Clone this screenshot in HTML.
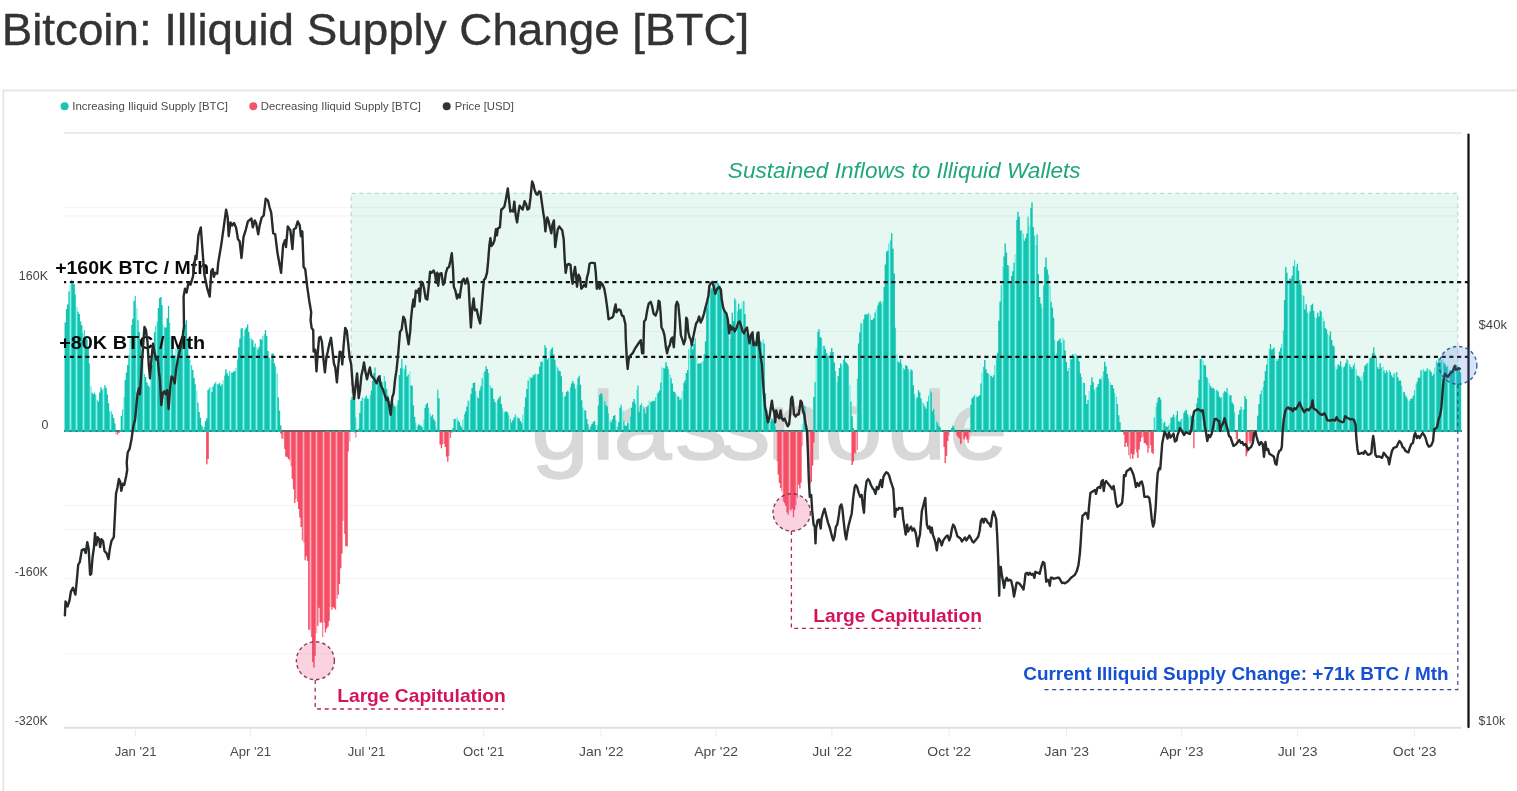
<!DOCTYPE html>
<html lang="en">
<head>
<meta charset="utf-8">
<title>Bitcoin: Illiquid Supply Change [BTC]</title>
<style>
html,body{margin:0;padding:0;background:#fff;}
body{width:1517px;height:791px;overflow:hidden;font-family:"Liberation Sans",sans-serif;}
svg{display:block;}
text{font-family:"Liberation Sans",sans-serif;}
</style>
</head>
<body>
<svg width="1517" height="791" viewBox="0 0 1517 791">
<defs>
<path id="pb" d="M64.60 431.9V322.6H65.88V309.1H67.15V304.5H68.43V291.6H69.70V285.1H70.98V279.7H72.25V283.8H73.53V284.2H74.80V294.4H76.08V307.0H77.35V311.8H78.63V314.1H79.90V321.5H81.18V325.2H82.46V333.0H83.73V329.9H85.01V338.1H86.28V339.3H87.56V347.7H88.83V363.6H90.11V386.2H91.38V392.8H92.66V394.2H93.93V392.8H95.21V394.9H96.48V399.7H97.76V401.4H99.04V392.5H100.31V387.3H101.59V389.8H102.86V388.3H104.14V384.9H105.41V387.5H106.69V394.5H107.96V403.1H109.24V411.3H110.51V411.3H111.79V414.2H113.07V418.0H114.34V423.6H115.62V429.6H116.89V431.9ZM119.44 431.9V429.9H120.72V415.9H121.99V409.5H123.27V396.9H124.54V380.1H125.82V372.6H127.09V365.0H128.37V355.3H129.65V338.6H130.92V325.1H132.20V318.8H133.47V301.0H134.75V296.1H136.02V308.3H137.30V320.3H138.57V332.1H139.85V345.0H141.12V355.6H142.40V363.3H143.67V373.9H144.95V377.1H146.23V382.6H147.50V385.4H148.78V386.7H150.05V378.2H151.33V364.9H152.60V346.4H153.88V332.2H155.15V325.8H156.43V321.4H157.70V308.1H158.98V298.3H160.25V297.0H161.53V305.1H162.81V324.7H164.08V327.6H165.36V327.5H166.63V318.3H167.91V305.9H169.18V322.8H170.46V336.6H171.73V346.5H173.01V355.6H174.28V355.6H175.56V348.5H176.84V346.6H178.11V344.6H179.39V342.6H180.66V338.7H181.94V330.2H183.21V325.5H184.49V324.4H185.76V320.2H187.04V338.5H188.31V355.4H189.59V359.9H190.86V365.3H192.14V370.1H193.42V378.1H194.69V384.0H195.97V390.4H197.24V402.4H198.52V412.1H199.79V417.7H201.07V425.6H202.34V427.3H203.62V426.8H204.89V420.9H206.17V418.2H207.44V389.9H208.72V388.0H210.00V387.0H211.27V391.9H212.55V386.5H213.82V383.7H215.10V381.9H216.37V384.1H217.65V384.5H218.92V383.0H220.20V386.1H221.47V384.2H222.75V380.3H224.03V375.5H225.30V369.3H226.58V373.2H227.85V376.1H229.13V371.1H230.40V372.6H231.68V372.8H232.95V371.6H234.23V371.2H235.50V368.1H236.78V359.6H238.05V347.3H239.33V338.5H240.61V328.6H241.88V327.9H243.16V336.3H244.43V329.6H245.71V327.4H246.98V324.6H248.26V332.0H249.53V338.1H250.81V338.7H252.08V340.3H253.36V346.9H254.63V343.4H255.91V347.2H257.19V349.6H258.46V347.0H259.74V339.1H261.01V339.7H262.29V336.1H263.56V333.9H264.84V330.1H266.11V336.1H267.39V350.9H268.66V357.4H269.94V360.1H271.21V353.8H272.49V353.5H273.77V363.2H275.04V366.3H276.32V373.5H277.59V397.2H278.87V410.6H280.14V425.4H281.42V431.9ZM324.78 431.9V431.3H326.06V431.3H327.33V431.3H328.61V431.3H329.88V431.3H331.16V431.3H332.43V431.3H333.71V431.3H334.98V431.3H336.26V431.3H337.54V431.3H338.81V431.3H340.09V431.3H341.36V431.3H342.64V431.3H343.91V431.3H345.19V431.3H346.46V431.3H347.74V431.3H349.01V431.3H350.29V399.8H351.57V396.9H352.84V399.1H354.12V399.9H355.39V417.4H356.67V431.3H357.94V428.7H359.22V413.1H360.49V400.9H361.77V397.5H363.04V398.1H364.32V398.4H365.59V395.7H366.87V398.6H368.15V398.9H369.42V395.2H370.70V390.6H371.97V380.7H373.25V373.0H374.52V367.5H375.80V376.8H377.07V380.1H378.35V376.1H379.62V375.0H380.90V381.7H382.17V382.3H383.45V375.9H384.73V381.6H386.00V388.8H387.28V394.9H388.55V399.0H389.83V401.2H391.10V401.5H392.38V403.2H393.65V405.7H394.93V406.7H396.20V404.8H397.48V400.3H398.75V375.0H400.03V368.3H401.31V359.3H402.58V368.3H403.86V369.2H405.13V365.3H406.41V376.6H407.68V374.4H408.96V371.6H410.23V384.9H411.51V386.1H412.78V405.2H414.06V416.9H415.34V422.8H416.61V426.4H417.89V424.5H419.16V424.7H420.44V426.1H421.71V426.9H422.99V419.5H424.26V407.9H425.54V404.3H426.81V402.9H428.09V407.8H429.36V413.6H430.64V416.5H431.92V414.7H433.19V419.2H434.47V421.3H435.74V426.2H437.02V389.7H438.29V398.3H439.57V431.3H440.84V431.3H442.12V431.3H443.39V431.3H444.67V431.3H445.94V431.3H447.22V431.3H448.50V431.3H449.77V431.3H451.05V431.3H452.32V428.3H453.60V419.1H454.87V418.7H456.15V417.5H457.42V420.3H458.70V422.0H459.97V425.5H461.25V427.8H462.52V419.6H463.80V414.1H465.08V411.4H466.35V406.5H467.63V400.8H468.90V400.6H470.18V393.9H471.45V388.1H472.73V383.1H474.00V382.4H475.28V391.1H476.55V396.8H477.83V398.3H479.11V390.4H480.38V386.3H481.66V378.2H482.93V372.7H484.21V371.2H485.48V366.2H486.76V368.9H488.03V372.9H489.31V385.0H490.58V387.8H491.86V388.5H493.13V399.0H494.41V402.0H495.69V402.7H496.96V399.7H498.24V398.1H499.51V396.1H500.79V404.1H502.06V408.6H503.34V412.4H504.61V411.4H505.89V411.5H507.16V412.4H508.44V415.5H509.71V419.0H510.99V422.4H512.27V419.9H513.54V417.5H514.82V414.6H516.09V416.4H517.37V417.8H518.64V418.4H519.92V421.1H521.19V423.2H522.47V414.7H523.74V406.9H525.02V397.5H526.29V388.9H527.57V380.6H528.85V376.8H530.12V377.7H531.40V377.7H532.67V375.2H533.95V374.6H535.22V373.6H536.50V374.5H537.77V374.1H539.05V366.4H540.32V361.8H541.60V361.7H542.88V358.6H544.15V344.9H545.43V347.8H546.70V359.6H547.98V358.1H549.25V350.7H550.53V349.0H551.80V347.4H553.08V354.6H554.35V359.8H555.63V365.4H556.90V367.5H558.18V370.6H559.46V371.2H560.73V376.2H562.01V391.9H563.28V396.8H564.56V396.3H565.83V392.1H567.11V390.8H568.38V392.2H569.66V387.2H570.93V383.5H572.21V380.9H573.48V383.5H574.76V388.5H576.04V385.6H577.31V378.0H578.59V375.8H579.86V384.7H581.14V400.2H582.41V407.5H583.69V410.2H584.96V410.5H586.24V418.9H587.51V424.2H588.79V427.5H590.06V426.3H591.34V424.1H592.62V422.1H593.89V420.7H595.17V424.9H596.44V425.2H597.72V405.4H598.99V395.1H600.27V393.0H601.54V394.1H602.82V396.8H604.09V401.2H605.37V405.1H606.65V406.6H607.92V413.3H609.20V420.4H610.47V422.2H611.75V419.3H613.02V416.1H614.30V414.9H615.57V419.9H616.85V426.7H618.12V422.1H619.40V407.7H620.67V404.8H621.95V410.2H623.23V421.1H624.50V425.4H625.78V425.8H627.05V422.5H628.33V423.2H629.60V416.4H630.88V407.7H632.15V402.0H633.43V399.0H634.70V403.4H635.98V390.1H637.25V385.4H638.53V411.7H639.81V404.9H641.08V402.9H642.36V406.7H643.63V408.4H644.91V413.4H646.18V407.1H647.46V405.3H648.73V400.8H650.01V401.8H651.28V401.7H652.56V400.7H653.83V401.1H655.11V397.2H656.39V393.5H657.66V392.5H658.94V390.4H660.21V382.8H661.49V367.2H662.76V368.2H664.04V368.5H665.31V362.2H666.59V366.3H667.86V369.1H669.14V374.3H670.42V378.2H671.69V383.6H672.97V391.5H674.24V392.0H675.52V394.1H676.79V396.1H678.07V396.9H679.34V400.3H680.62V398.3H681.89V390.9H683.17V383.1H684.44V380.5H685.72V372.9H687.00V369.9H688.27V349.5H689.55V346.8H690.82V341.4H692.10V349.6H693.37V344.1H694.65V338.3H695.92V357.6H697.20V363.4H698.47V363.8H699.75V363.3H701.02V362.5H702.30V360.9H703.58V353.9H704.85V341.5H706.13V307.5H707.40V301.2H708.68V293.8H709.95V290.3H711.23V288.0H712.50V288.7H713.78V284.8H715.05V281.5H716.33V280.1H717.60V283.2H718.88V285.6H720.16V293.8H721.43V301.1H722.71V307.4H723.98V310.8H725.26V314.8H726.53V317.4H727.81V327.0H729.08V339.1H730.36V325.8H731.63V312.7H732.91V321.1H734.19V298.4H735.46V300.6H736.74V311.2H738.01V303.8H739.29V309.4H740.56V308.4H741.84V302.3H743.11V300.9H744.39V313.9H745.66V333.9H746.94V332.1H748.21V333.2H749.49V339.9H750.77V337.8H752.04V331.6H753.32V339.8H754.59V340.5H755.87V345.1H757.14V339.5H758.42V339.5H759.69V341.3H760.97V342.2H762.24V339.3H763.52V343.5H764.79V393.3H766.07V409.7H767.35V415.2H768.62V419.9H769.90V421.1H771.17V418.5H772.45V419.4H773.72V421.2H775.00V426.3H776.27V431.3H777.55V431.3H778.82V431.3H780.10V431.3H781.37V431.3H782.65V431.3H783.93V431.3H785.20V431.3H786.48V431.3H787.75V431.3H789.03V431.3H790.30V431.3H791.58V431.3H792.85V431.3H794.13V431.3H795.40V431.3H796.68V431.3H797.96V431.3H799.23V431.3H800.51V431.3H801.78V424.3H803.06V412.7H804.33V405.8H805.61V427.3H806.88V431.3H808.16V431.3H809.43V431.3H810.71V431.3H811.98V431.3H813.26V397.1H814.54V382.2H815.81V348.4H817.09V331.9H818.36V329.3H819.64V336.9H820.91V338.0H822.19V346.0H823.46V345.8H824.74V348.9H826.01V353.0H827.29V356.0H828.56V355.2H829.84V351.9H831.12V347.9H832.39V351.9H833.67V362.6H834.94V371.1H836.22V382.5H837.49V375.9H838.77V368.1H840.04V363.5H841.32V365.1H842.59V360.0H843.87V355.4H845.14V362.1H846.42V363.5H847.70V365.6H848.97V384.7H850.25V401.6H851.52V416.3H852.80V428.1H854.07V431.3H855.35V431.3H856.62V378.8H857.90V343.4H859.17V332.4H860.45V323.1H861.73V323.6H863.00V319.3H864.28V314.5H865.55V314.6H866.83V314.3H868.10V312.7H869.38V314.4H870.65V320.1H871.93V319.7H873.20V317.9H874.48V312.4H875.75V308.9H877.03V305.4H878.31V302.8H879.58V300.9H880.86V303.3H882.13V300.9H883.41V286.9H884.68V264.6H885.96V251.8H887.23V250.6H888.51V243.3H889.78V240.4H891.06V233.2H892.33V248.7H893.61V273.6H894.89V327.8H896.16V354.4H897.44V361.6H898.71V362.4H899.99V359.3H901.26V363.7H902.54V368.3H903.81V369.5H905.09V365.1H906.36V365.9H907.64V368.9H908.91V371.5H910.19V369.2H911.47V370.6H912.74V385.2H914.02V394.1H915.29V398.8H916.57V397.2H917.84V390.2H919.12V392.6H920.39V398.2H921.67V401.9H922.94V403.4H924.22V406.4H925.50V408.7H926.77V401.4H928.05V395.4H929.32V390.5H930.60V392.3H931.87V411.2H933.15V408.7H934.42V414.9H935.70V420.9H936.97V422.7H938.25V425.8H939.52V427.2H940.80V429.9H942.08V431.3H943.35V431.3H944.63V431.3H945.90V431.3H947.18V431.3H948.45V431.3H949.73V431.3H951.00V428.1H952.28V425.4H953.55V427.2H954.83V430.1H956.10V431.3H957.38V431.3H958.66V431.3H959.93V431.3H961.21V431.3H962.48V431.3H963.76V431.3H965.03V431.3H966.31V431.3H967.58V431.3H968.86V431.3H970.13V404.7H971.41V398.4H972.68V396.7H973.96V394.8H975.24V396.1H976.51V397.2H977.79V396.2H979.06V395.2H980.34V383.4H981.61V372.7H982.89V366.7H984.16V359.9H985.44V369.5H986.71V372.9H987.99V373.7H989.27V375.2H990.54V376.1H991.82V377.4H993.09V375.3H994.37V365.1H995.64V355.8H996.92V352.7H998.19V320.8H999.47V301.5H1000.74V285.2H1002.02V266.6H1003.29V256.5H1004.57V243.6H1005.85V252.4H1007.12V265.1H1008.40V266.0H1009.67V282.1H1010.95V276.1H1012.22V271.3H1013.50V262.8H1014.77V254.1H1016.05V220.1H1017.32V211.7H1018.60V216.7H1019.87V230.7H1021.15V230.0H1022.43V233.6H1023.70V240.8H1024.98V238.0H1026.25V233.6H1027.53V216.7H1028.80V226.4H1030.08V208.1H1031.35V202.6H1032.63V227.0H1033.90V235.5H1035.18V245.1H1036.45V234.6H1037.73V274.2H1039.01V297.0H1040.28V303.4H1041.56V307.4H1042.83V285.5H1044.11V267.1H1045.38V257.6H1046.66V269.4H1047.93V274.6H1049.21V285.6H1050.48V301.7H1051.76V307.7H1053.04V317.7H1054.31V340.3H1055.59V353.6H1056.86V341.2H1058.14V340.3H1059.41V338.5H1060.69V342.7H1061.96V337.7H1063.24V340.2H1064.51V350.6H1065.79V362.1H1067.06V371.0H1068.34V368.0H1069.62V358.4H1070.89V359.5H1072.17V354.0H1073.44V356.4H1074.72V353.3H1075.99V354.7H1077.27V356.4H1078.54V361.4H1079.82V373.5H1081.09V377.3H1082.37V382.8H1083.64V382.9H1084.92V395.1H1086.20V403.9H1087.47V400.0H1088.75V391.1H1090.02V385.0H1091.30V377.2H1092.57V382.2H1093.85V389.7H1095.12V388.1H1096.40V386.8H1097.67V384.0H1098.95V379.0H1100.22V379.6H1101.50V376.7H1102.78V371.3H1104.05V361.8H1105.33V366.3H1106.60V374.0H1107.88V378.6H1109.15V382.0H1110.43V384.7H1111.70V385.0H1112.98V388.4H1114.25V392.9H1115.53V396.7H1116.81V404.2H1118.08V415.3H1119.36V422.2H1120.63V431.3H1121.91V431.3H1123.18V431.3H1124.46V431.3H1125.73V431.3H1127.01V431.3H1128.28V431.3H1129.56V431.3H1130.83V431.3H1132.11V431.3H1133.39V431.3H1134.66V431.3H1135.94V431.3H1137.21V431.3H1138.49V431.3H1139.76V431.3H1141.04V431.3H1142.31V431.3H1143.59V431.3H1144.86V431.3H1146.14V431.3H1147.41V431.3H1148.69V431.3H1149.97V431.3H1151.24V431.3H1152.52V431.3H1153.79V417.6H1155.07V407.1H1156.34V402.6H1157.62V397.7H1158.89V396.9H1160.17V399.6H1161.44V418.6H1162.72V423.2H1163.99V421.8H1165.27V426.2H1166.55V427.1H1167.82V425.2H1169.10V423.2H1170.37V417.8H1171.65V417.2H1172.92V414.6H1174.20V417.2H1175.47V415.0H1176.75V410.9H1178.02V421.2H1179.30V421.7H1180.58V419.2H1181.85V418.5H1183.13V413.0H1184.40V411.1H1185.68V409.7H1186.95V414.3H1188.23V417.0H1189.50V414.6H1190.78V415.9H1192.05V417.8H1193.33V418.9H1194.60V411.7H1195.88V403.2H1197.16V397.7H1198.43V379.7H1199.71V358.9H1200.98V358.7H1202.26V360.7H1203.53V365.1H1204.81V365.5H1206.08V376.9H1207.36V378.8H1208.63V383.1H1209.91V386.1H1211.18V388.1H1212.46V387.8H1213.74V389.1H1215.01V391.1H1216.29V389.8H1217.56V391.5H1218.84V396.5H1220.11V398.0H1221.39V397.1H1222.66V392.8H1223.94V391.3H1225.21V392.2H1226.49V388.1H1227.76V393.0H1229.04V395.3H1230.32V395.3H1231.59V402.6H1232.87V404.3H1234.14V412.3H1235.42V431.3H1236.69V431.3H1237.97V414.8H1239.24V410.0H1240.52V406.7H1241.79V409.2H1243.07V409.5H1244.35V396.1H1245.62V399.1H1246.90V431.3H1248.17V431.3H1249.45V431.3H1250.72V431.3H1252.00V431.3H1253.27V431.3H1254.55V431.3H1255.82V431.3H1257.10V415.7H1258.37V404.1H1259.65V394.0H1260.93V390.2H1262.20V386.9H1263.48V380.7H1264.75V371.1H1266.03V364.6H1267.30V356.4H1268.58V349.1H1269.85V343.9H1271.13V349.8H1272.40V348.8H1273.68V347.6H1274.95V357.7H1276.23V361.1H1277.51V358.9H1278.78V351.6H1280.06V347.7H1281.33V344.0H1282.61V330.6H1283.88V299.9H1285.16V267.1H1286.43V272.7H1287.71V280.1H1288.98V278.5H1290.26V278.7H1291.53V275.7H1292.81V266.1H1294.09V260.1H1295.36V266.8H1296.64V263.8H1297.91V270.8H1299.19V280.0H1300.46V284.8H1301.74V294.8H1303.01V295.8H1304.29V309.4H1305.56V304.2H1306.84V312.5H1308.12V313.5H1309.39V311.3H1310.67V305.1H1311.94V303.8H1313.22V310.9H1314.49V317.4H1315.77V317.9H1317.04V312.8H1318.32V316.4H1319.59V310.4H1320.87V311.8H1322.14V317.7H1323.42V321.2H1324.70V328.0H1325.97V329.6H1327.25V333.8H1328.52V335.4H1329.80V331.5H1331.07V340.0H1332.35V345.5H1333.62V346.8H1334.90V366.5H1336.17V369.2H1337.45V364.6H1338.72V365.4H1340.00V361.3H1341.28V366.8H1342.55V367.5H1343.83V366.4H1345.10V363.2H1346.38V359.3H1347.65V360.5H1348.93V364.3H1350.20V366.9H1351.48V368.8H1352.75V365.5H1354.03V363.3H1355.30V369.6H1356.58V375.8H1357.86V375.7H1359.13V377.3H1360.41V380.5H1361.68V375.8H1362.96V371.9H1364.23V365.9H1365.51V364.5H1366.78V362.9H1368.06V362.4H1369.33V358.0H1370.61V357.8H1371.88V353.2H1373.16V347.3H1374.44V353.8H1375.71V356.3H1376.99V367.0H1378.26V368.9H1379.54V363.2H1380.81V367.6H1382.09V366.4H1383.36V370.6H1384.64V373.3H1385.91V370.4H1387.19V372.4H1388.47V370.1H1389.74V372.1H1391.02V375.2H1392.29V377.6H1393.57V373.5H1394.84V372.7H1396.12V372.0H1397.39V377.4H1398.67V380.8H1399.94V380.6H1401.22V385.8H1402.49V391.7H1403.77V392.2H1405.05V395.6H1406.32V397.7H1407.60V400.3H1408.87V401.1H1410.15V398.9H1411.42V398.6H1412.70V395.7H1413.97V390.3H1415.25V384.0H1416.52V381.8H1417.80V377.7H1419.07V377.8H1420.35V370.0H1421.63V371.0H1422.90V369.1H1424.18V371.8H1425.45V370.7H1426.73V368.1H1428.00V369.1H1429.28V370.0H1430.55V372.0H1431.83V375.7H1433.10V374.1H1434.38V367.5H1435.65V360.7H1436.93V362.8H1438.21V358.2H1439.48V362.6H1440.76V360.5H1442.03V359.2H1443.31V362.6H1444.58V364.3H1445.86V366.9H1447.13V365.7H1448.41V370.4H1449.68V369.9H1450.96V370.5H1452.24V369.8H1453.51V368.4H1454.79V366.0H1456.06V365.1H1457.34V367.2H1458.61V367.1H1459.89V372.4H1461.16V431.9Z"/>
<path id="nb" d="M115.62 431.8V433.9H116.89V435.1H118.17V432.9H119.44V431.8ZM206.17 431.8V464.2H207.44V458.9H208.72V431.8ZM280.14 431.8V433.4H281.42V438.6H282.69V439.1H283.97V449.0H285.24V456.4H286.52V457.0H287.79V459.1H289.07V460.3H290.35V466.2H291.62V478.7H292.90V489.2H294.17V502.9H295.45V499.1H296.72V501.9H298.00V508.9H299.27V517.5H300.55V527.1H301.82V540.5H303.10V543.1H304.38V560.2H305.65V431.8ZM305.65 431.8V556.3H306.93V560.9H308.20V629.8H309.48V629.7H310.75V637.3H312.03V662.1H313.30V667.4H314.58V656.1H315.85V633.3H317.13V626.1H318.40V607.7H319.68V622.4H320.96V622.6H322.23V637.2H323.51V622.6H324.78V632.4H326.06V628.4H327.33V626.4H328.61V621.1H329.88V606.8H331.16V609.8H332.43V607.1H333.71V608.3H334.98V609.8H336.26V598.7H337.54V594.7H338.81V584.1H340.09V568.3H341.36V553.4H342.64V431.8ZM342.64 431.8V520.8H343.91V533.8H345.19V545.9H346.46V546.5H347.74V451.6H349.01V441.6H350.29V431.8ZM355.39 431.8V437.5H356.67V431.8ZM439.57 431.8V444.4H440.84V448.3H442.12V444.2H443.39V443.7H444.67V447.0H445.94V456.5H447.22V461.8H448.50V456.1H449.77V437.9H451.05V431.8ZM340.09 431.8V435.9H341.36V436.0H342.64V436.0H343.91V436.0H345.19V436.0H346.46V436.0H347.74V434.7H349.01V431.8ZM354.12 431.8V432.4H355.39V435.7H356.67V431.8ZM439.57 431.8V435.2H440.84V436.0H442.12V436.0H443.39V436.0H444.67V436.0H445.94V436.0H447.22V436.0H448.50V436.0H449.77V434.5H451.05V432.6H452.32V431.8ZM776.27 431.8V461.2H777.55V474.6H778.82V483.1H780.10V488.0H781.37V491.6H782.65V501.5H783.93V503.2H785.20V506.0H786.48V512.6H787.75V515.0H789.03V509.6H790.30V510.5H791.58V508.4H792.85V517.2H794.13V510.0H795.40V505.2H796.68V497.8H797.96V484.8H799.23V488.5H800.51V482.5H801.78V446.0H803.06V431.8ZM806.88 431.8V432.6H808.16V470.9H809.43V484.5H810.71V481.9H811.98V465.5H813.26V442.4H814.54V431.8ZM851.52 431.8V465.0H852.80V461.6H854.07V452.8H855.35V454.6H856.62V450.1H857.90V431.8ZM943.35 431.8V447.0H944.63V462.9H945.90V455.7H947.18V440.9H948.45V435.5H949.73V431.8ZM956.10 431.8V435.4H957.38V437.0H958.66V438.5H959.93V444.3H961.21V442.8H962.48V438.4H963.76V439.5H965.03V436.5H966.31V439.4H967.58V443.0H968.86V439.5H970.13V432.4H971.41V431.8ZM1123.18 431.8V434.7H1124.46V447.0H1125.73V442.7H1127.01V446.4H1128.28V455.2H1129.56V458.9H1130.83V453.8H1132.11V458.8H1133.39V454.4H1134.66V449.2H1135.94V452.3H1137.21V458.0H1138.49V449.4H1139.76V441.7H1141.04V437.8H1142.31V437.0H1143.59V442.9H1144.86V443.6H1146.14V445.2H1147.41V452.8H1148.69V447.9H1149.97V445.3H1151.24V452.5H1152.52V453.9H1153.79V431.8ZM1193.33 431.8V448.2H1194.60V431.8ZM1235.42 431.8V438.9H1236.69V440.7H1237.97V431.8ZM1245.62 431.8V456.2H1246.90V453.2H1248.17V441.1H1249.45V443.4H1250.72V441.3H1252.00V438.7H1253.27V435.4H1254.55V432.9H1255.82V432.4H1257.10V431.8Z"/>
<mask id="mbar" maskUnits="userSpaceOnUse" x="60" y="170" width="1410" height="520">
<rect x="60" y="170" width="1410" height="520" fill="#ffffff"/>
<path d="M70.5 170V690M76.5 170V690M83.5 170V690M90.5 170V690M96.5 170V690M103.5 170V690M110.5 170V690M116.5 170V690M123.5 170V690M130.5 170V690M136.5 170V690M143.5 170V690M150.5 170V690M156.5 170V690M163.5 170V690M170.5 170V690M176.5 170V690M183.5 170V690M190.5 170V690M196.5 170V690M203.5 170V690M210.5 170V690M216.5 170V690M223.5 170V690M230.5 170V690M236.5 170V690M243.5 170V690M250.5 170V690M256.5 170V690M263.5 170V690M270.5 170V690M276.5 170V690M283.5 170V690M290.5 170V690M296.5 170V690M303.5 170V690M310.5 170V690M316.5 170V690M323.5 170V690M330.5 170V690M336.5 170V690M343.5 170V690M349.5 170V690M356.5 170V690M363.5 170V690M369.5 170V690M376.5 170V690M383.5 170V690M389.5 170V690M396.5 170V690M403.5 170V690M409.5 170V690M416.5 170V690M423.5 170V690M429.5 170V690M436.5 170V690M443.5 170V690M449.5 170V690M456.5 170V690M463.5 170V690M469.5 170V690M476.5 170V690M483.5 170V690M489.5 170V690M496.5 170V690M503.5 170V690M509.5 170V690M516.5 170V690M523.5 170V690M529.5 170V690M536.5 170V690M543.5 170V690M549.5 170V690M556.5 170V690M563.5 170V690M569.5 170V690M576.5 170V690M583.5 170V690M589.5 170V690M596.5 170V690M603.5 170V690M609.5 170V690M616.5 170V690M622.5 170V690M629.5 170V690M636.5 170V690M642.5 170V690M649.5 170V690M656.5 170V690M662.5 170V690M669.5 170V690M676.5 170V690M682.5 170V690M689.5 170V690M696.5 170V690M702.5 170V690M709.5 170V690M716.5 170V690M722.5 170V690M729.5 170V690M736.5 170V690M742.5 170V690M749.5 170V690M756.5 170V690M762.5 170V690M769.5 170V690M776.5 170V690M782.5 170V690M789.5 170V690M796.5 170V690M802.5 170V690M809.5 170V690M816.5 170V690M822.5 170V690M829.5 170V690M836.5 170V690M842.5 170V690M849.5 170V690M856.5 170V690M862.5 170V690M869.5 170V690M876.5 170V690M882.5 170V690M889.5 170V690M896.5 170V690M902.5 170V690M909.5 170V690M915.5 170V690M922.5 170V690M929.5 170V690M935.5 170V690M942.5 170V690M949.5 170V690M955.5 170V690M962.5 170V690M969.5 170V690M975.5 170V690M982.5 170V690M989.5 170V690M995.5 170V690M1002.5 170V690M1009.5 170V690M1015.5 170V690M1022.5 170V690M1029.5 170V690M1035.5 170V690M1042.5 170V690M1049.5 170V690M1055.5 170V690M1062.5 170V690M1069.5 170V690M1075.5 170V690M1082.5 170V690M1089.5 170V690M1095.5 170V690M1102.5 170V690M1109.5 170V690M1115.5 170V690M1122.5 170V690M1129.5 170V690M1135.5 170V690M1142.5 170V690M1149.5 170V690M1155.5 170V690M1162.5 170V690M1169.5 170V690M1175.5 170V690M1182.5 170V690M1189.5 170V690M1195.5 170V690M1202.5 170V690M1208.5 170V690M1215.5 170V690M1222.5 170V690M1228.5 170V690M1235.5 170V690M1242.5 170V690M1248.5 170V690M1255.5 170V690M1262.5 170V690M1268.5 170V690M1275.5 170V690M1282.5 170V690M1288.5 170V690M1295.5 170V690M1302.5 170V690M1308.5 170V690M1315.5 170V690M1322.5 170V690M1328.5 170V690M1335.5 170V690M1342.5 170V690M1348.5 170V690M1355.5 170V690M1362.5 170V690M1368.5 170V690M1375.5 170V690M1382.5 170V690M1388.5 170V690M1395.5 170V690M1402.5 170V690M1408.5 170V690M1415.5 170V690M1422.5 170V690M1428.5 170V690M1435.5 170V690M1442.5 170V690M1448.5 170V690M1455.5 170V690" stroke="#000000" stroke-opacity="0.3" stroke-width="3" fill="none"/>
<path d="M70.5 170V690M76.5 170V690M83.5 170V690M90.5 170V690M96.5 170V690M103.5 170V690M110.5 170V690M116.5 170V690M123.5 170V690M130.5 170V690M136.5 170V690M143.5 170V690M150.5 170V690M156.5 170V690M163.5 170V690M170.5 170V690M176.5 170V690M183.5 170V690M190.5 170V690M196.5 170V690M203.5 170V690M210.5 170V690M216.5 170V690M223.5 170V690M230.5 170V690M236.5 170V690M243.5 170V690M250.5 170V690M256.5 170V690M263.5 170V690M270.5 170V690M276.5 170V690M283.5 170V690M290.5 170V690M296.5 170V690M303.5 170V690M310.5 170V690M316.5 170V690M323.5 170V690M330.5 170V690M336.5 170V690M343.5 170V690M349.5 170V690M356.5 170V690M363.5 170V690M369.5 170V690M376.5 170V690M383.5 170V690M389.5 170V690M396.5 170V690M403.5 170V690M409.5 170V690M416.5 170V690M423.5 170V690M429.5 170V690M436.5 170V690M443.5 170V690M449.5 170V690M456.5 170V690M463.5 170V690M469.5 170V690M476.5 170V690M483.5 170V690M489.5 170V690M496.5 170V690M503.5 170V690M509.5 170V690M516.5 170V690M523.5 170V690M529.5 170V690M536.5 170V690M543.5 170V690M549.5 170V690M556.5 170V690M563.5 170V690M569.5 170V690M576.5 170V690M583.5 170V690M589.5 170V690M596.5 170V690M603.5 170V690M609.5 170V690M616.5 170V690M622.5 170V690M629.5 170V690M636.5 170V690M642.5 170V690M649.5 170V690M656.5 170V690M662.5 170V690M669.5 170V690M676.5 170V690M682.5 170V690M689.5 170V690M696.5 170V690M702.5 170V690M709.5 170V690M716.5 170V690M722.5 170V690M729.5 170V690M736.5 170V690M742.5 170V690M749.5 170V690M756.5 170V690M762.5 170V690M769.5 170V690M776.5 170V690M782.5 170V690M789.5 170V690M796.5 170V690M802.5 170V690M809.5 170V690M816.5 170V690M822.5 170V690M829.5 170V690M836.5 170V690M842.5 170V690M849.5 170V690M856.5 170V690M862.5 170V690M869.5 170V690M876.5 170V690M882.5 170V690M889.5 170V690M896.5 170V690M902.5 170V690M909.5 170V690M915.5 170V690M922.5 170V690M929.5 170V690M935.5 170V690M942.5 170V690M949.5 170V690M955.5 170V690M962.5 170V690M969.5 170V690M975.5 170V690M982.5 170V690M989.5 170V690M995.5 170V690M1002.5 170V690M1009.5 170V690M1015.5 170V690M1022.5 170V690M1029.5 170V690M1035.5 170V690M1042.5 170V690M1049.5 170V690M1055.5 170V690M1062.5 170V690M1069.5 170V690M1075.5 170V690M1082.5 170V690M1089.5 170V690M1095.5 170V690M1102.5 170V690M1109.5 170V690M1115.5 170V690M1122.5 170V690M1129.5 170V690M1135.5 170V690M1142.5 170V690M1149.5 170V690M1155.5 170V690M1162.5 170V690M1169.5 170V690M1175.5 170V690M1182.5 170V690M1189.5 170V690M1195.5 170V690M1202.5 170V690M1208.5 170V690M1215.5 170V690M1222.5 170V690M1228.5 170V690M1235.5 170V690M1242.5 170V690M1248.5 170V690M1255.5 170V690M1262.5 170V690M1268.5 170V690M1275.5 170V690M1282.5 170V690M1288.5 170V690M1295.5 170V690M1302.5 170V690M1308.5 170V690M1315.5 170V690M1322.5 170V690M1328.5 170V690M1335.5 170V690M1342.5 170V690M1348.5 170V690M1355.5 170V690M1362.5 170V690M1368.5 170V690M1375.5 170V690M1382.5 170V690M1388.5 170V690M1395.5 170V690M1402.5 170V690M1408.5 170V690M1415.5 170V690M1422.5 170V690M1428.5 170V690M1435.5 170V690M1442.5 170V690M1448.5 170V690M1455.5 170V690" stroke="#000000" stroke-opacity="0.78" stroke-width="1" fill="none"/>
</mask>
</defs>
<rect x="0" y="0" width="1517" height="791" fill="#ffffff"/>

<!-- title -->
<text x="1.65" y="45.40" font-size="43.6" fill="#333333" textLength="747.61" lengthAdjust="spacingAndGlyphs" stroke="#333333" stroke-width="0.35">Bitcoin: Illiquid Supply Change [BTC]</text>

<!-- frame -->
<path d="M3.3 791V90.4H1517" fill="none" stroke="#e7e7e7" stroke-width="2"/>

<!-- legend -->
<circle cx="64.6" cy="106.2" r="4" fill="#1cc5b1"/>
<circle cx="253.3" cy="106.2" r="4" fill="#f2566b"/>
<circle cx="446.7" cy="106.2" r="4" fill="#333333"/>
<text x="72.25" y="109.90" font-size="11" fill="#4a4a4a" textLength="155.66" lengthAdjust="spacingAndGlyphs">Increasing Iliquid Supply [BTC]</text>
<text x="260.87" y="109.90" font-size="11" fill="#4a4a4a" textLength="159.94" lengthAdjust="spacingAndGlyphs">Decreasing Iliquid Supply [BTC]</text>
<text x="454.67" y="109.90" font-size="11" fill="#4a4a4a" textLength="59.34" lengthAdjust="spacingAndGlyphs">Price [USD]</text>

<!-- axis base -->
<path d="M64 727.8H1461.5" stroke="#e0e0e0" stroke-width="1.9" fill="none"/>
<path d="M64 133H1461.5" stroke="#ececec" stroke-width="1.8" fill="none"/>
<g stroke="#ededed" stroke-width="1" fill="none">
<path d="M135.5 728V737"/>
<path d="M250.3 728V737"/>
<path d="M366.3 728V737"/>
<path d="M483.7 728V737"/>
<path d="M601.0 728V737"/>
<path d="M715.8 728V737"/>
<path d="M831.9 728V737"/>
<path d="M949.2 728V737"/>
<path d="M1066.5 728V737"/>
<path d="M1181.3 728V737"/>
<path d="M1297.4 728V737"/>
<path d="M1414.7 728V737"/>
</g>

<!-- shaded region -->
<rect x="351.2" y="193.3" width="1106.6" height="238.3" fill="#d8f3ea" fill-opacity="0.62"/>
<path d="M351.2 431.6V193.3H1457.8V431.6" fill="none" stroke="#a9cfc3" stroke-width="0.9" stroke-dasharray="4 3.7"/>

<!-- gridlines -->
<g stroke="#000000" stroke-opacity="0.05" stroke-width="1" fill="none">
<path d="M64 207.6H1462"/>
<path d="M64 216H1462"/>
<path d="M64 331.4H1462"/>
<path d="M64 505.3H1462"/>
<path d="M64 529.5H1462"/>
<path d="M64 578.7H1462"/>
<path d="M64 653.8H1462"/>
</g>

<!-- watermark -->
<text transform="translate(0 459.3) scale(1.08 1)" x="491.71 547.67 567.82 625.00 665.04 709.99 763.12 822.22 878.86" y="0" font-size="97" fill="#d2d2d2" stroke="#d2d2d2" stroke-width="1.4" stroke-linejoin="round" opacity="0.85">glassnode</text>

<!-- bars -->
<use href="#pb" fill="#96fffa"/>
<use href="#nb" fill="#ffbbd5"/>
<path d="M64 431H1462" stroke="#2e3030" stroke-width="1.7" fill="none"/>
<g mask="url(#mbar)">
<use href="#pb" fill="#17c3ae"/>
<use href="#nb" fill="#f44e62"/>
</g>

<!-- threshold lines -->
<g stroke="#111111" stroke-width="2.2" fill="none" stroke-dasharray="4.1 3.65" stroke-dashoffset="1.9">
<path d="M64 282.2H1468"/>
<path d="M64 356.8H1468"/>
</g>

<!-- axis labels -->
<text x="18.88" y="279.60" font-size="12.2" fill="#444444" textLength="29.06" lengthAdjust="spacingAndGlyphs">160K</text>
<text x="41.47" y="429.00" font-size="12.2" fill="#444444" textLength="6.92" lengthAdjust="spacingAndGlyphs">0</text>
<text x="14.73" y="576.00" font-size="12.2" fill="#444444" textLength="33.21" lengthAdjust="spacingAndGlyphs">-160K</text>
<text x="14.73" y="724.90" font-size="12.2" fill="#444444" textLength="33.21" lengthAdjust="spacingAndGlyphs">-320K</text>
<text x="1478.56" y="329.20" font-size="12.2" fill="#444444" textLength="28.44" lengthAdjust="spacingAndGlyphs">$40k</text>
<text x="1478.57" y="725.20" font-size="12.2" fill="#444444" textLength="26.72" lengthAdjust="spacingAndGlyphs">$10k</text>
<text x="114.77" y="756.20" font-size="12.8" fill="#4a4a4a" textLength="41.90" lengthAdjust="spacingAndGlyphs">Jan &#39;21</text>
<text x="230.03" y="756.20" font-size="12.8" fill="#4a4a4a" textLength="41.16" lengthAdjust="spacingAndGlyphs">Apr &#39;21</text>
<text x="347.76" y="756.20" font-size="12.8" fill="#4a4a4a" textLength="37.51" lengthAdjust="spacingAndGlyphs">Jul &#39;21</text>
<text x="463.13" y="756.20" font-size="12.8" fill="#4a4a4a" textLength="41.15" lengthAdjust="spacingAndGlyphs">Oct &#39;21</text>
<text x="578.96" y="756.20" font-size="12.8" fill="#4a4a4a" textLength="44.55" lengthAdjust="spacingAndGlyphs">Jan &#39;22</text>
<text x="694.25" y="756.20" font-size="12.8" fill="#4a4a4a" textLength="43.77" lengthAdjust="spacingAndGlyphs">Apr &#39;22</text>
<text x="812.19" y="756.20" font-size="12.8" fill="#4a4a4a" textLength="39.89" lengthAdjust="spacingAndGlyphs">Jul &#39;22</text>
<text x="927.34" y="756.20" font-size="12.8" fill="#4a4a4a" textLength="43.76" lengthAdjust="spacingAndGlyphs">Oct &#39;22</text>
<text x="1044.42" y="756.20" font-size="12.8" fill="#4a4a4a" textLength="44.55" lengthAdjust="spacingAndGlyphs">Jan &#39;23</text>
<text x="1159.71" y="756.20" font-size="12.8" fill="#4a4a4a" textLength="43.77" lengthAdjust="spacingAndGlyphs">Apr &#39;23</text>
<text x="1277.65" y="756.20" font-size="12.8" fill="#4a4a4a" textLength="39.89" lengthAdjust="spacingAndGlyphs">Jul &#39;23</text>
<text x="1392.79" y="756.20" font-size="12.8" fill="#4a4a4a" textLength="43.76" lengthAdjust="spacingAndGlyphs">Oct &#39;23</text>

<!-- annotations text black -->
<text x="55.18" y="273.90" font-size="18" font-weight="bold" fill="#0a0a0a" textLength="154.02" lengthAdjust="spacingAndGlyphs">+160K BTC / Mth</text>
<text x="59.17" y="349.10" font-size="18" font-weight="bold" fill="#0a0a0a" textLength="146.06" lengthAdjust="spacingAndGlyphs">+80K BTC / Mth</text>

<!-- price line -->
<path d="M64.9 615.4L65.5 601.5L67.5 606.5L69.5 600.5L70.9 591.6L72.9 587.7L75.4 594.6L76.8 580.7L78.2 564.9L79.8 562.0L81.8 550.1L84.1 549.1L85.7 553.1L87.3 542.2L88.7 549.1L90.1 574.8L91.2 573.8L92.6 557.0L94.0 547.1L95.0 533.3L96.2 545.1L97.6 537.2L99.2 539.2L100.1 547.1L101.5 539.2L103.1 541.2L104.5 551.1L106.5 553.1L108.5 559.0L109.8 549.1L111.4 541.2L113.8 537.2L115.0 513.5L116.0 493.7L117.4 487.8L118.9 478.9L120.3 481.9L121.3 490.8L122.9 483.8L124.3 484.8L126.2 475.9L127.2 470.0L126.7 462.4L127.7 452.5L129.7 448.5L131.6 438.7L133.2 426.8L135.2 418.9L136.6 403.1L137.6 393.2L139.0 388.2L139.9 394.2L141.5 369.4L143.1 345.7L144.5 326.9L145.9 329.9L147.5 341.8L148.8 365.5L150.0 378.3L151.4 359.6L153.0 343.7L154.4 351.6L156.0 359.6L157.7 358.6L158.9 371.4L159.9 379.3L161.3 405.0L162.9 393.2L164.3 391.2L165.7 394.2L167.2 390.2L168.6 409.0L170.2 387.2L171.6 376.4L173.2 378.3L174.8 383.3L176.1 369.4L178.1 357.6L180.1 349.7L182.1 341.8L184.0 325.9L183.6 296.6L185.0 288.7L186.6 292.6L188.5 282.7L190.5 284.7L192.9 276.8L195.5 256.0L196.5 259.0L198.4 235.3L200.8 227.4L202.4 249.1L204.4 274.8L207.3 288.7L209.7 296.6L211.3 270.9L212.7 268.9L213.9 276.8L215.2 272.8L217.2 273.8L218.2 262.9L221.2 245.1L223.7 227.4L226.1 209.6L227.7 217.5L228.7 236.2L230.5 222.4L232.1 225.4L234.0 223.0L236.0 227.4L238.0 239.2L239.6 241.2L241.5 258.0L243.5 237.2L245.9 229.3L247.9 221.4L251.4 218.5L252.8 227.4L254.8 220.4L256.2 223.4L258.2 234.3L259.7 225.4L261.7 217.5L263.7 215.5L265.7 198.7L268.0 200.7L269.6 207.6L271.2 212.5L273.2 233.3L275.2 234.3L277.5 253.1L281.1 272.8L283.1 245.1L285.0 240.2L286.0 247.1L287.8 226.4L290.4 230.3L292.4 249.1L293.8 229.3L295.7 228.3L297.7 221.4L299.7 225.4L300.9 236.2L302.3 231.3L303.6 266.9L305.2 268.9L307.2 286.7L309.2 300.5L311.2 312.4L310.6 320.0L311.6 327.9L313.2 329.9L313.6 351.6L315.2 349.7L316.5 371.4L317.5 355.6L319.1 337.8L320.5 336.8L321.9 341.8L323.5 359.6L324.9 372.4L326.4 357.6L327.8 351.6L329.4 343.7L331.0 337.8L332.4 349.7L333.9 363.5L335.3 367.5L336.9 382.3L338.3 365.5L339.7 351.6L341.3 352.6L342.3 364.5L343.6 345.7L345.2 327.9L346.8 330.9L348.2 343.7L349.6 357.6L351.2 364.5L352.7 385.3L354.1 399.1L355.5 387.2L357.1 373.4L358.7 398.1L360.1 389.2L361.4 375.4L363.0 368.5L364.0 362.5L365.4 371.4L367.0 379.3L368.6 372.4L369.9 367.5L371.3 375.4L372.9 377.4L374.9 380.3L376.5 383.3L377.9 379.3L379.2 376.4L380.8 385.3L382.8 389.2L384.8 395.1L386.4 400.1L387.7 398.1L389.1 405.0L390.7 414.9L392.3 397.1L393.7 393.2L395.1 379.3L396.6 369.4L398.2 353.6L400.0 331.9L401.7 329.4L403.3 316.6L404.9 319.6L406.2 329.4L407.6 338.3L408.6 344.3L410.2 331.4L410.9 320.3L412.3 306.5L413.4 299.5L414.4 306.5L415.8 290.6L417.4 292.6L418.8 288.7L419.8 301.5L421.2 281.7L422.7 282.7L424.1 288.7L425.7 298.5L427.3 299.5L428.7 286.7L430.1 271.8L431.6 272.8L433.6 270.5L435.2 274.8L436.2 282.7L437.2 272.8L438.2 285.7L439.6 273.8L441.5 273.2L443.1 284.7L444.5 282.7L445.9 272.8L447.5 267.9L449.0 266.9L450.4 261.0L451.8 253.1L453.0 268.9L453.8 286.7L455.4 290.6L457.0 298.5L458.3 294.6L459.7 297.6L460.9 288.7L462.3 280.7L463.7 278.8L465.3 283.7L467.2 278.4L468.6 284.7L469.6 304.5L470.9 327.5L472.2 308.4L473.6 298.5L474.8 310.4L476.7 309.4L478.1 316.3L480.1 323.3L481.5 308.4L483.1 288.7L484.0 279.8L485.4 278.4L487.0 272.8L488.0 262.9L489.4 245.1L490.4 238.2L491.4 246.1L492.9 244.2L494.5 240.2L495.9 229.3L496.9 235.3L497.9 228.3L499.9 227.4L501.3 209.6L502.8 208.6L504.4 206.6L505.8 199.7L507.8 188.4L508.8 197.7L510.3 211.5L511.7 210.5L513.1 211.5L514.3 201.6L515.7 215.5L517.1 222.4L518.3 213.5L519.6 205.6L521.0 207.6L522.6 209.6L524.6 201.2L526.2 204.6L527.6 209.6L529.1 208.6L530.5 197.7L532.1 181.5L533.5 184.8L534.5 189.8L536.1 193.7L537.4 194.7L539.0 191.4L540.4 191.8L542.0 203.6L543.4 213.5L544.4 219.4L545.4 231.3L546.3 223.4L547.3 217.5L548.7 221.4L549.9 227.4L551.3 233.3L552.3 225.4L553.9 220.4L555.2 247.1L556.6 237.2L557.8 229.3L559.2 226.4L560.6 228.3L562.2 230.3L563.7 239.2L564.7 259.0L565.7 272.8L567.1 264.9L569.1 263.9L570.5 264.9L571.7 278.8L572.6 283.7L573.6 274.8L575.0 266.9L576.0 274.8L577.0 286.7L578.6 274.8L580.0 277.8L581.3 288.7L582.9 286.7L584.3 284.7L585.9 286.7L586.9 277.8L588.3 272.8L589.5 263.9L590.8 262.9L592.8 262.9L594.8 263.3L595.8 272.8L596.8 288.7L598.4 282.7L599.7 288.7L601.3 282.7L602.7 284.7L604.3 288.7L605.7 296.6L607.3 308.4L608.6 319.3L610.0 318.3L611.6 317.9L613.2 316.3L614.6 308.4L615.6 304.5L616.5 312.4L618.5 309.4L620.5 310.4L621.9 315.4L623.5 316.3L625.4 324.3L625.8 339.3L626.8 359.1L627.7 369.0L628.7 359.1L630.7 355.1L632.7 353.2L634.7 349.2L636.6 346.2L638.6 343.3L640.8 340.3L642.1 353.2L643.3 353.2L644.1 321.5L645.7 319.6L647.3 309.7L648.7 303.7L650.7 301.8L652.0 305.7L653.6 313.6L655.6 315.6L657.6 309.7L658.6 300.8L659.6 301.8L660.5 311.6L661.5 327.5L663.1 330.4L664.5 335.4L665.9 347.2L667.1 353.2L668.5 347.2L669.8 345.3L671.0 339.3L672.4 337.4L673.8 347.2L675.0 329.4L675.8 305.7L677.0 301.8L678.3 304.7L679.7 319.6L680.9 335.4L682.3 339.3L683.7 344.3L685.3 339.3L686.2 317.6L687.2 319.6L688.2 331.4L689.6 337.4L690.8 339.3L691.8 345.3L693.2 337.4L694.8 329.4L696.1 323.5L697.5 321.5L699.1 316.6L700.7 322.5L702.1 319.6L704.0 313.6L705.4 307.7L707.0 301.8L708.4 295.8L709.4 285.9L711.0 283.0L712.6 282.0L713.9 287.9L715.3 293.8L716.5 289.9L717.9 287.9L719.3 286.9L720.9 289.9L721.8 299.8L723.2 307.7L724.8 311.6L726.4 313.6L727.8 319.6L729.2 333.4L730.3 325.5L731.7 329.4L733.1 327.5L734.7 331.4L736.7 327.5L738.3 322.5L739.6 321.5L741.0 325.5L742.6 331.4L744.2 333.4L745.6 329.4L747.0 327.5L748.5 337.4L749.5 343.3L750.9 335.4L752.5 332.4L753.5 345.3L754.9 343.3L756.5 345.3L757.4 333.4L758.4 332.4L759.4 347.2L760.8 357.1L762.0 365.0L762.8 378.9L764.0 394.7L765.0 406.6L766.3 412.5L767.9 422.4L769.3 418.4L770.7 408.5L771.9 400.6L772.9 408.5L774.3 412.5L775.2 422.4L776.2 410.5L777.8 416.5L779.2 418.4L780.6 410.5L781.8 418.4L783.2 420.4L784.5 418.4L786.1 422.4L787.7 426.3L789.1 424.4L790.1 414.5L791.1 398.7L792.1 396.7L793.0 402.6L794.0 414.5L795.6 416.5L797.0 414.5L798.6 414.5L799.6 408.5L800.6 400.6L801.9 402.6L802.9 410.5L804.3 414.5L805.5 422.4L806.9 430.3L807.8 449.4L808.8 479.1L809.8 496.9L811.2 494.9L812.2 510.7L813.6 524.6L814.8 526.6L815.5 543.4L816.1 528.5L817.5 520.6L819.1 519.6L820.7 528.5L821.5 518.7L823.1 512.7L824.6 508.8L826.0 514.7L828.0 522.6L830.0 528.5L832.0 536.5L833.3 540.4L834.5 536.5L835.9 526.6L837.3 524.6L838.9 514.7L839.9 506.8L841.3 504.4L842.4 508.8L843.8 522.6L845.2 534.5L846.2 539.4L847.2 532.5L848.8 524.6L850.3 518.7L851.7 513.7L853.1 498.9L854.7 487.0L855.7 485.0L857.1 487.0L858.7 492.9L860.2 496.9L861.6 494.9L863.0 506.8L864.0 512.7L865.0 492.9L866.6 481.1L868.1 479.1L869.5 481.1L870.9 485.0L872.5 488.0L874.1 490.0L875.5 493.9L876.8 487.0L878.4 489.0L879.8 483.1L880.8 480.1L882.0 487.0L883.4 477.1L884.8 474.2L886.3 472.2L887.9 473.2L889.3 476.1L890.7 481.1L892.3 486.0L893.3 489.0L894.3 504.8L894.8 516.7L896.2 508.8L897.8 509.8L899.2 507.8L901.2 508.8L902.2 507.8L903.2 518.7L904.5 526.6L905.7 534.5L907.1 524.6L908.1 531.5L909.7 528.5L911.1 526.6L912.4 530.5L914.0 528.5L915.6 532.5L916.6 538.4L917.6 546.3L919.0 538.4L920.0 534.5L920.9 522.6L921.9 510.7L923.5 504.8L924.5 500.9L925.3 497.9L925.9 510.7L926.9 524.6L928.3 528.5L929.5 526.6L930.8 532.5L931.8 527.6L932.8 534.5L934.2 538.4L935.4 542.4L936.8 550.3L937.8 542.4L938.7 538.4L940.1 540.4L941.7 545.4L943.3 540.4L944.7 538.4L946.1 536.5L947.6 535.5L949.2 540.4L950.6 536.5L952.0 528.5L953.2 524.6L954.6 526.6L956.0 531.5L957.5 536.5L959.1 537.4L960.5 538.4L961.9 541.4L963.5 539.4L965.0 537.4L966.4 540.4L967.8 538.4L969.4 535.5L971.0 538.4L972.4 541.4L973.8 542.4L975.3 540.4L976.9 538.4L978.3 536.5L979.7 530.5L980.9 520.6L982.3 518.7L983.6 522.6L984.8 518.7L986.2 519.6L987.6 522.6L989.2 523.6L990.8 526.6L992.1 516.7L993.4 511.5L994.8 514.5L996.2 519.4L997.2 535.3L998.2 559.0L999.2 595.6L999.8 566.9L1000.8 566.9L1001.8 574.8L1003.3 582.7L1004.1 587.7L1005.3 580.7L1006.7 577.8L1008.1 580.7L1009.7 579.8L1011.2 580.7L1012.6 586.7L1014.0 596.6L1015.2 590.6L1016.6 582.7L1018.0 582.7L1019.6 583.7L1021.1 585.7L1022.5 587.7L1023.5 589.6L1024.5 582.7L1025.5 573.8L1027.1 572.8L1028.5 574.8L1029.8 572.8L1031.4 574.8L1033.0 573.8L1034.4 577.8L1035.4 571.8L1037.0 572.8L1038.3 572.8L1039.7 573.8L1041.3 566.9L1042.9 562.0L1044.3 562.9L1045.3 570.9L1046.2 581.7L1047.6 579.8L1048.8 580.7L1049.8 585.7L1050.8 577.8L1052.2 577.8L1053.6 578.8L1055.1 578.4L1057.1 577.8L1059.1 577.8L1060.7 580.7L1062.1 583.1L1063.5 582.7L1065.0 583.3L1066.6 582.3L1068.0 581.3L1069.4 579.8L1071.0 577.8L1072.9 576.4L1074.9 574.8L1076.9 570.9L1078.5 564.9L1079.9 553.1L1080.9 539.2L1081.5 528.5L1082.5 515.7L1083.9 514.7L1085.5 512.7L1086.9 513.7L1088.1 518.7L1089.0 506.8L1090.4 492.9L1091.8 492.0L1093.4 491.0L1095.0 490.0L1096.0 493.9L1097.4 488.0L1098.9 487.0L1100.3 488.0L1101.7 481.1L1102.9 480.1L1103.7 491.0L1104.9 483.1L1106.2 481.1L1107.6 483.1L1109.2 485.0L1110.8 487.0L1112.2 489.0L1113.6 486.0L1114.8 492.9L1116.1 502.8L1117.5 506.8L1119.1 505.8L1120.7 504.8L1122.1 502.8L1123.1 492.9L1124.0 475.1L1125.4 476.1L1126.6 471.2L1128.0 470.2L1129.4 469.2L1130.6 468.2L1132.0 471.2L1133.3 474.2L1134.5 479.1L1135.9 487.0L1137.3 483.1L1138.9 486.0L1140.5 482.1L1141.8 481.5L1143.2 487.0L1144.4 496.9L1145.8 496.9L1147.8 496.5L1149.2 497.9L1150.3 504.8L1151.7 518.7L1153.1 526.6L1154.3 522.6L1155.7 506.8L1156.7 487.0L1157.7 473.2L1159.1 468.2L1160.2 469.2L1161.0 459.3L1162.2 443.5L1163.6 436.6L1164.6 431.6L1166.2 434.6L1167.6 438.6L1168.9 432.6L1170.5 437.6L1172.1 435.6L1173.5 433.6L1174.9 441.5L1176.5 440.5L1177.4 435.6L1178.8 431.6L1180.0 428.1L1182.0 431.1L1184.0 435.0L1185.9 432.1L1187.9 433.1L1189.9 434.0L1191.5 429.1L1192.9 417.2L1194.2 411.3L1195.8 410.3L1197.8 408.9L1199.8 410.3L1201.4 411.3L1202.7 410.3L1203.7 417.2L1204.7 425.1L1206.1 433.1L1207.3 441.0L1208.7 435.0L1210.1 437.0L1211.6 434.0L1213.2 427.1L1214.6 419.2L1216.0 418.8L1217.6 420.2L1219.2 421.2L1220.1 431.1L1221.5 426.1L1223.1 423.2L1224.5 418.2L1225.9 423.2L1227.5 429.1L1229.0 436.0L1230.4 437.0L1231.8 441.0L1233.4 445.9L1235.0 444.9L1236.4 443.9L1237.7 442.0L1239.3 440.0L1240.9 442.9L1242.3 442.0L1243.7 444.9L1245.3 443.9L1246.8 446.9L1248.2 449.9L1249.6 447.9L1251.2 446.9L1252.8 442.9L1254.2 433.1L1255.5 432.1L1256.7 437.0L1258.1 442.0L1259.5 444.9L1261.1 442.0L1262.7 443.9L1264.0 456.8L1265.4 442.0L1266.6 449.9L1268.0 448.9L1269.4 453.8L1271.0 454.8L1272.6 455.8L1273.9 456.8L1275.3 463.7L1276.5 464.7L1277.9 454.8L1279.3 450.9L1280.9 449.9L1281.8 446.9L1282.8 429.1L1283.8 419.2L1285.2 411.3L1286.8 408.3L1288.4 407.4L1289.8 409.3L1291.1 408.3L1292.7 411.3L1294.3 408.3L1295.7 409.3L1297.1 407.4L1298.7 404.4L1299.6 402.4L1301.0 406.4L1302.6 409.3L1304.2 412.3L1305.6 410.3L1307.0 409.3L1308.5 410.3L1310.1 408.3L1311.5 406.4L1312.5 400.4L1313.5 408.3L1314.9 409.3L1316.5 410.3L1318.4 412.3L1320.4 414.3L1322.4 414.7L1324.4 413.3L1325.9 416.2L1327.3 420.2L1329.3 420.6L1331.3 420.2L1333.3 419.8L1335.2 420.6L1336.6 417.2L1338.2 420.2L1340.2 421.2L1342.2 422.2L1343.7 421.8L1345.1 416.2L1346.5 417.2L1348.1 418.2L1350.1 419.2L1352.1 419.2L1354.0 419.8L1355.6 425.1L1356.4 439.0L1357.4 448.9L1358.4 453.8L1360.0 453.8L1361.9 452.8L1363.5 453.8L1364.9 450.9L1366.3 452.8L1367.9 454.8L1369.8 454.4L1371.4 452.8L1372.2 442.9L1373.2 436.0L1374.2 442.9L1375.4 454.8L1376.8 456.8L1378.7 456.4L1380.7 457.2L1382.1 457.8L1383.7 452.8L1385.3 454.8L1386.7 456.8L1388.0 457.8L1389.2 464.3L1390.6 456.8L1392.0 450.9L1393.6 447.9L1395.2 447.3L1396.5 446.9L1397.9 443.9L1399.5 441.0L1401.1 442.9L1402.5 446.9L1403.9 447.9L1405.4 450.9L1407.0 451.8L1408.4 452.4L1409.8 447.9L1411.4 443.9L1413.0 442.9L1414.3 435.0L1415.3 433.1L1416.9 438.0L1418.3 436.0L1419.7 438.0L1421.3 435.0L1422.8 433.1L1424.2 435.0L1425.6 438.0L1427.2 443.9L1428.8 446.5L1430.2 446.3L1431.5 444.9L1433.1 441.0L1434.1 429.1L1435.5 428.7L1437.1 427.1L1438.7 419.2L1440.1 415.3L1441.4 407.4L1442.6 391.5L1443.6 379.7L1445.0 373.7L1446.6 375.7L1448.0 376.7L1449.3 374.7L1450.9 372.7L1452.5 371.8L1453.9 367.8L1454.9 365.8L1455.9 369.8L1457.3 369.4L1458.8 368.2L1459.8 368.8" fill="none" stroke="#272b2a" stroke-width="2.4" stroke-linejoin="round" stroke-linecap="round"/>

<!-- right axis -->
<path d="M1468.5 134.6V727" stroke="#151515" stroke-width="2.3" stroke-linecap="round" fill="none"/>

<!-- green label -->
<text x="727.86" y="177.80" font-size="21.5" font-style="italic" fill="#22a877" textLength="352.80" lengthAdjust="spacingAndGlyphs">Sustained Inflows to Illiquid Wallets</text>

<!-- pink annotations -->
<g fill="none" stroke="#b52460" stroke-width="1.3" stroke-dasharray="4 3.7">
<path d="M315.2 680V709H503.5"/>
<path d="M791.4 531V628.3H980.5"/>
</g>
<text x="337.22" y="701.60" font-size="18.4" font-weight="bold" fill="#d4145a" textLength="168.58" lengthAdjust="spacingAndGlyphs">Large Capitulation</text>
<text x="813.21" y="622.00" font-size="18.4" font-weight="bold" fill="#d4145a" textLength="168.68" lengthAdjust="spacingAndGlyphs">Large Capitulation</text>

<!-- blue annotation -->
<path d="M1457.8 384.5V689.6H1042" fill="none" stroke="#31487c" stroke-width="1.15" stroke-dasharray="4 3.6"/>
<text x="1023.22" y="679.80" font-size="18.6" font-weight="bold" fill="#1650d2" textLength="425.35" lengthAdjust="spacingAndGlyphs">Current Illiquid Supply Change: +71k BTC / Mth</text>
<!-- annotation circles (on top) -->
<circle cx="315.4" cy="660.7" r="19" fill="#ef4f83" fill-opacity="0.25" stroke="#7a2a4e" stroke-opacity="0.9" stroke-width="1.4" stroke-dasharray="3.5 2.9"/>
<circle cx="791.7" cy="512.4" r="18.7" fill="#ef4f83" fill-opacity="0.25" stroke="#7a2a4e" stroke-opacity="0.9" stroke-width="1.4" stroke-dasharray="3.5 2.9"/>
<circle cx="1458" cy="365.3" r="18.9" fill="#4c7fe2" fill-opacity="0.21" stroke="#2a4f96" stroke-opacity="0.9" stroke-width="1.4" stroke-dasharray="3.5 2.9"/>
</svg>
</body>
</html>
